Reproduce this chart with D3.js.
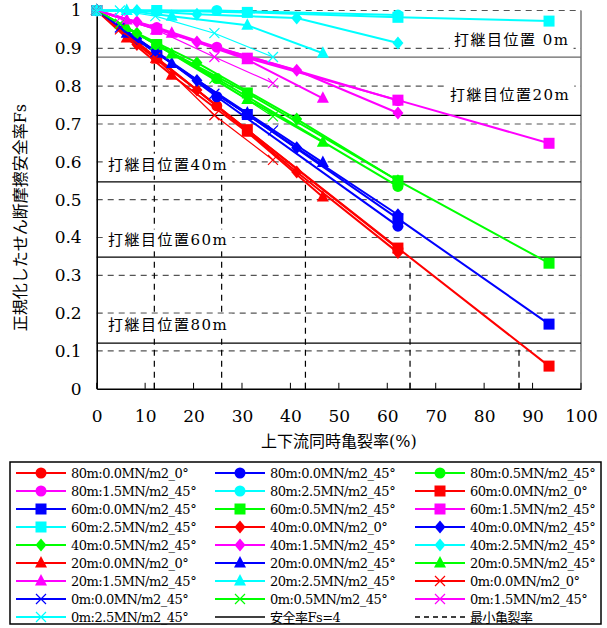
<!DOCTYPE html>
<html lang="en">
<head>
<meta charset="UTF-8">
<title>せん断摩擦安全率</title>
<script src="https://d3js.org/d3.v7.min.js"></script>
<style>
  body { margin: 0; background: #fff; }
  svg text { fill: #000; font-family: 'DejaVu Serif', 'Noto Sans CJK JP', serif; }
</style>
</head>
<body>
<svg width="607" height="628"></svg>
<script>
// ---- data ----
const colors = ["#ff0000", "#0000ff", "#00ff00", "#ff00ff", "#00ffff"];
const loads = ["0.0MN/m2_0°", "0.0MN/m2_45°", "0.5MN/m2_45°", "1.5MN/m2_45°", "2.5MN/m2_45°"];
const joints = ["80m", "60m", "40m", "20m", "0m"];
const shapes = ["circle", "square", "diamond", "triangle", "cross"];

// crack ratio (%) for each joint position
const x80 = [0, 12.4, 24.8, 62.2];
const x60 = [0, 12.4, 31.1, 62.2, 93.4];
const x40 = [0, 8.3, 20.7, 41.3, 62.2];
const x20 = [0, 6.2, 15.5, 31.1, 46.7];
const x0  = [0, 4.8, 12.1, 24.3, 36.4];

// normalized Fs, one row per load case (red, blue, green, magenta, cyan)
const fs80 = [
  [1, 0.875, 0.748, 0.37],
  [1, 0.89, 0.772, 0.43],
  [1, 0.91, 0.82, 0.535],
  [1, 0.955, 0.903, 0.762],
  [1, 1.0, 1.0, 0.988]
];
const fs60 = [
  [1, 0.874, 0.685, 0.372, 0.06],
  [1, 0.89, 0.725, 0.45, 0.171],
  [1, 0.91, 0.782, 0.55, 0.332],
  [1, 0.95, 0.874, 0.763, 0.649],
  [1, 1.0, 0.995, 0.982, 0.972]
];
const fs40 = [
  [1, 0.91, 0.79, 0.573, 0.36],
  [1, 0.925, 0.815, 0.637, 0.46],
  [1, 0.94, 0.862, 0.713, 0.55],
  [1, 0.97, 0.917, 0.842, 0.729],
  [1, 1.0, 0.99, 0.98, 0.914]
];
const fs20 = [
  [1, 0.927, 0.829, 0.678, 0.507],
  [1, 0.94, 0.86, 0.729, 0.598],
  [1, 0.955, 0.885, 0.765, 0.652],
  [1, 0.975, 0.94, 0.87, 0.768],
  [1, 1.0, 0.985, 0.961, 0.887]
];
const fs0 = [
  [1, 0.95, 0.875, 0.723, 0.605],
  [1, 0.955, 0.89, 0.78, 0.683],
  [1, 0.965, 0.91, 0.82, 0.72],
  [1, 0.98, 0.95, 0.877, 0.808],
  [1, 1.0, 0.985, 0.94, 0.877]
];

// safety factor Fs=4 lines and minimum crack ratio for each joint
const fsLimit = [0.877, 0.723, 0.547, 0.348, 0.121];
const minCrack = [11.9, 25.8, 43.1, 64.7, 87.2];
const jointLabels = ["打継目位置 0m", "打継目位置20m", "打継目位置40m", "打継目位置60m", "打継目位置80m"];

const xTicks = [0, 10, 20, 30, 40, 50, 60, 70, 80, 90, 100];
const yTicks = [0, 0.1, 0.2, 0.3, 0.4, 0.5, 0.6, 0.7, 0.8, 0.9, 1];

// ---- layout ----
const svg = d3.select("svg");
const mLeft = 96.7, mRight = 581, mTop = 10.5, mBottom = 388.8;
const x = d3.scaleLinear().domain([0, 100]).range([mLeft, mRight]);
const y = d3.scaleLinear().domain([0, 1]).range([mBottom, mTop]);

// horizontal dashed grid
svg.append("g").selectAll("line")
  .data(yTicks.filter(d => d > 0))
  .join("line")
  .attr("x1", mLeft).attr("x2", mRight)
  .attr("y1", d => y(d)).attr("y2", d => y(d))
  .attr("stroke", "#555").attr("stroke-width", 1.2)
  .attr("stroke-dasharray", "6,5");

// right border
svg.append("line").attr("x1", mRight).attr("x2", mRight).attr("y1", mTop).attr("y2", mBottom)
  .attr("stroke", "#777").attr("stroke-width", 1.5);

// minimum crack ratio (vertical dashed, up to matching Fs line)
svg.append("g").selectAll("line")
  .data(minCrack)
  .join("line")
  .attr("x1", d => x(d)).attr("x2", d => x(d))
  .attr("y1", mBottom).attr("y2", (d, i) => y(fsLimit[i]))
  .attr("stroke", "#000").attr("stroke-width", 1.2)
  .attr("stroke-dasharray", "6,5");

// safety factor lines
svg.append("g").selectAll("line")
  .data(fsLimit)
  .join("line")
  .attr("x1", mLeft).attr("x2", mRight)
  .attr("y1", d => y(d)).attr("y2", d => y(d))
  .attr("stroke", (d, i) => i === 0 ? "#666" : "#000").attr("stroke-width", 1.3);

// joint labels with white background
const labelPos = [[454, 0.925], [450, 0.78], [108, 0.595], [108, 0.395], [108, 0.172]];
jointLabels.forEach((t, i) => {
  const g = svg.append("g");
  const tx = g.append("text")
    .attr("x", labelPos[i][0]).attr("y", y(labelPos[i][1]) + 6)
    .style("font-size", "15px").style("letter-spacing", "1.5px")
    .text(t);
  const bb = tx.node().getBBox();
  g.insert("rect", "text")
    .attr("x", bb.x - 4).attr("y", bb.y - 2)
    .attr("width", bb.width + 8).attr("height", bb.height + 4)
    .attr("fill", "#fff");
});

// axes
const xAxis = svg.append("g").attr("transform", `translate(0,${mBottom})`)
  .call(d3.axisBottom(x).tickValues(xTicks).tickSize(0).tickPadding(21).tickFormat(d3.format("d")));
xAxis.attr("font-family", null);
xAxis.select(".domain").attr("stroke-width", 1.6);
xAxis.selectAll("text").style("font-size", "17px");
// inner ticks on x axis
svg.append("g").selectAll("line")
  .data(xTicks.concat(minCrack))
  .join("line")
  .attr("x1", d => x(d)).attr("x2", d => x(d))
  .attr("y1", mBottom).attr("y2", mBottom - 6)
  .attr("stroke", "#000").attr("stroke-width", 1);

const yAxis = svg.append("g").attr("transform", `translate(${mLeft},0)`)
  .call(d3.axisLeft(y).tickValues(yTicks).tickSize(0).tickPadding(15).tickFormat(d => d === 0 || d === 1 ? d : d3.format(".1f")(d)));
yAxis.attr("font-family", null);
yAxis.select(".domain").attr("stroke-width", 1.6);
yAxis.selectAll("text").style("font-size", "17px");

svg.append("text")
  .attr("x", x(50)).attr("y", 447)
  .attr("text-anchor", "middle").style("font-size", "16px")
  .text("上下流同時亀裂率(%)");

svg.append("text")
  .attr("transform", `translate(26,${(mTop + mBottom) / 2 + 18}) rotate(-90)`)
  .attr("text-anchor", "middle").style("font-size", "16px")
  .text("正規化したせん断摩擦安全率Fs");

// ---- series ----
const xs = [x80, x60, x40, x20, x0];
const fss = [fs80, fs60, fs40, fs20, fs0];

function marker(g, shape, color, cx, cy) {
  if (shape === "circle") {
    g.append("circle").attr("cx", cx).attr("cy", cy).attr("r", 5.5).attr("fill", color);
  } else if (shape === "square") {
    g.append("rect").attr("x", cx - 5.5).attr("y", cy - 5.5).attr("width", 11).attr("height", 11).attr("fill", color);
  } else if (shape === "diamond") {
    g.append("path").attr("d", `M${cx},${cy - 6.5}L${cx + 5.5},${cy}L${cx},${cy + 6.5}L${cx - 5.5},${cy}Z`).attr("fill", color);
  } else if (shape === "triangle") {
    g.append("path").attr("d", `M${cx},${cy - 7}L${cx + 6},${cy + 4.5}L${cx - 6},${cy + 4.5}Z`).attr("fill", color);
  } else {
    g.append("path").attr("d", `M${cx - 5},${cy - 5}L${cx + 5},${cy + 5}M${cx - 5},${cy + 5}L${cx + 5},${cy - 5}`)
      .attr("stroke", color).attr("stroke-width", 1.2).attr("fill", "none");
  }
}

const line = d3.line().x(d => x(d[0])).y(d => y(d[1]));
const plot = svg.append("g");
const series = [];
joints.forEach((j, ji) => {
  loads.forEach((l, li) => {
    const pts = xs[ji].map((v, k) => [v, fss[ji][li][k]]);
    series.push({ name: `${j}:${l}`, shape: shapes[ji], color: colors[li], pts });
  });
});
series.forEach(s => {
  const g = plot.append("g");
  g.append("path").datum(s.pts).attr("d", line)
    .attr("fill", "none").attr("stroke", s.color)
    .attr("stroke-width", s.shape === "cross" ? 1.2 : 2);
  s.pts.forEach(p => marker(g, s.shape, s.color, x(p[0]), y(p[1])));
});

// ---- legend ----
const legend = svg.append("g");
legend.append("rect").attr("x", 10).attr("y", 462).attr("width", 591).attr("height", 162)
  .attr("fill", "#fff").attr("stroke", "#000").attr("stroke-width", 1.5);
const items = series.map(s => ({ name: s.name, color: s.color, shape: s.shape, dash: null }))
  .concat([{ name: "安全率Fs=4", color: "#000", shape: null, dash: null },
           { name: "最小亀裂率", color: "#000", shape: null, dash: "5,4" }]);
const colX = [16, 215, 415];
items.forEach((it, i) => {
  const cx = colX[i % 3], cy = 473 + Math.floor(i / 3) * 18;
  const g = legend.append("g");
  g.append("line").attr("x1", cx).attr("x2", cx + 50).attr("y1", cy).attr("y2", cy)
    .attr("stroke", it.color).attr("stroke-width", it.shape ? 2 : 1.3)
    .attr("stroke-dasharray", it.dash);
  if (it.shape) marker(g, it.shape, it.color, cx + 25, cy);
  g.append("text").attr("x", cx + 55).attr("y", cy + 5)
    .style("font-size", "13px").style("letter-spacing", "-0.5px").text(it.name);
});
</script>
</body>
</html>
